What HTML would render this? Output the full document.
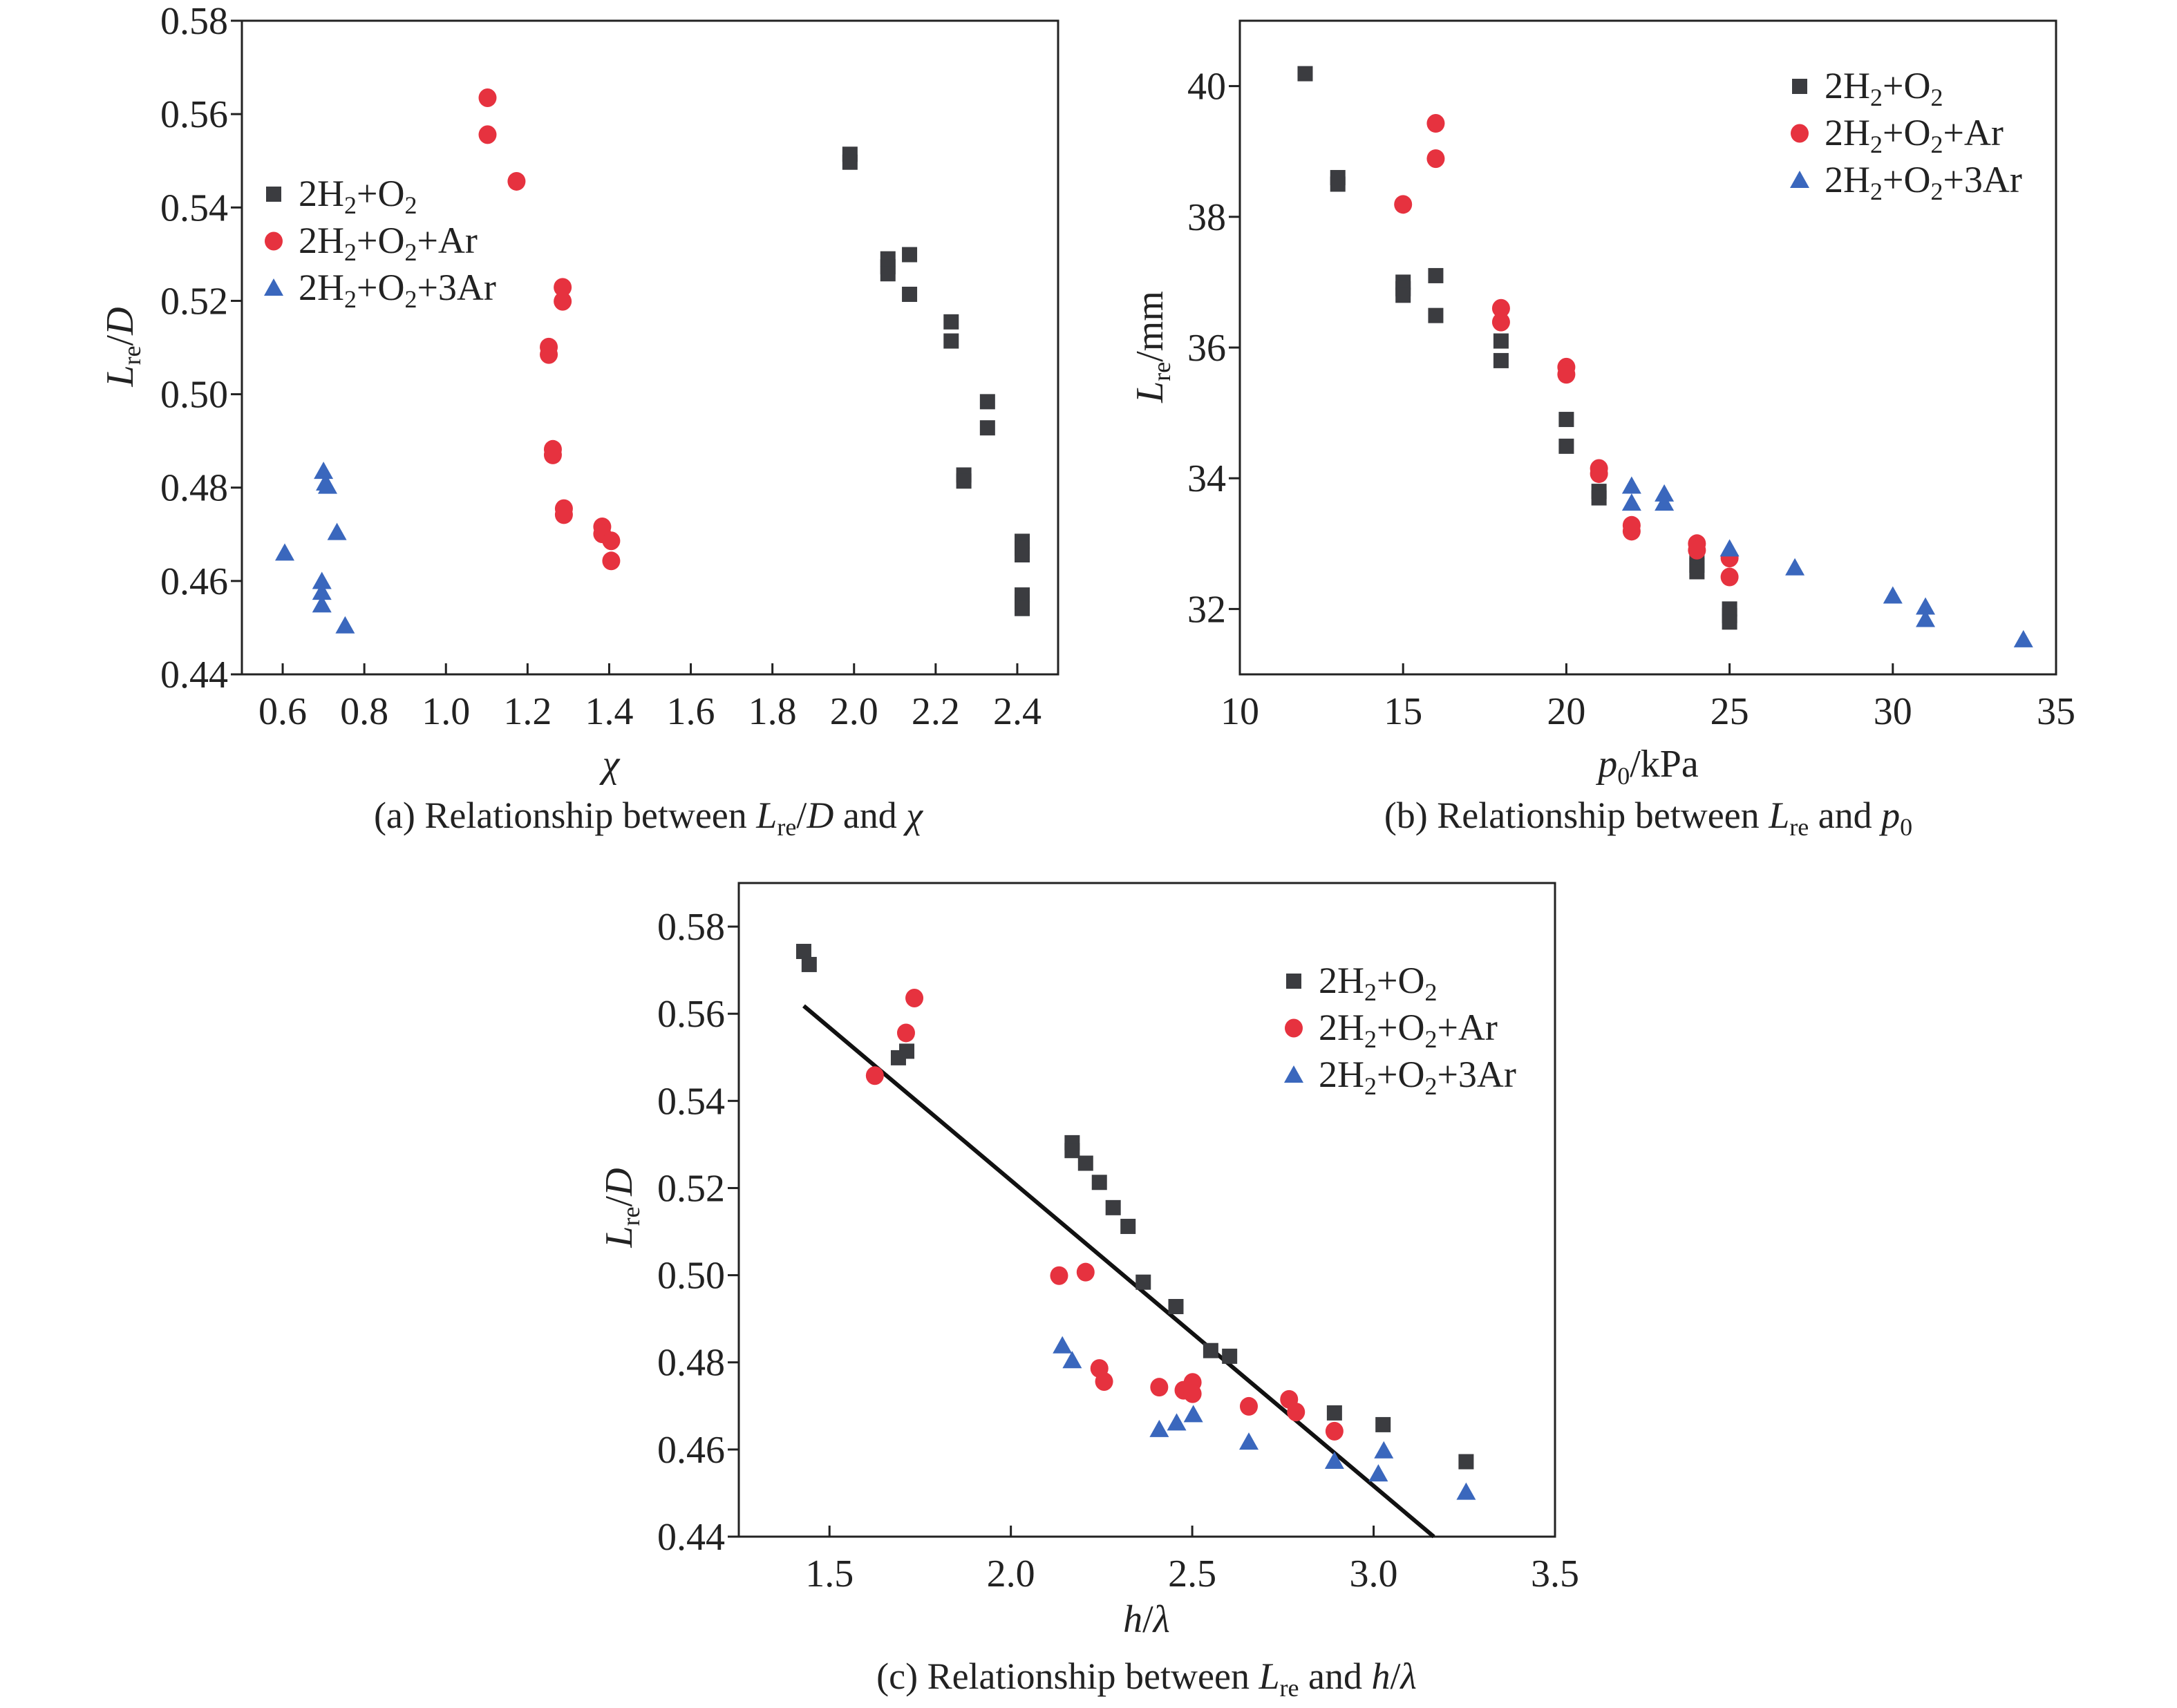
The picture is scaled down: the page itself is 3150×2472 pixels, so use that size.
<!DOCTYPE html>
<html><head><meta charset="utf-8"><style>
html,body{margin:0;padding:0;background:#fff}
svg{display:block}
text{font-family:"Liberation Serif",serif;fill:#222}
</style></head><body>
<svg id="fig" width="3150" height="2472" viewBox="0 0 3150 2472" xmlns="http://www.w3.org/2000/svg">
<g id="pa"></g>
<g id="pb"></g>
<g id="pc"></g>
<text x="938" y="1198" font-size="54" text-anchor="middle">(a) Relationship between <tspan font-style="italic">L</tspan><tspan font-size="36" dy="11">re</tspan><tspan dy="-11">/</tspan><tspan font-style="italic">D</tspan> and <tspan font-style="italic">χ</tspan></text>
<text x="2385" y="1198" font-size="54" text-anchor="middle">(b) Relationship between <tspan font-style="italic">L</tspan><tspan font-size="36" dy="11">re</tspan><tspan dy="-11"> and </tspan><tspan font-style="italic">p</tspan><tspan font-size="36" dy="11">0</tspan></text>
<text x="1659" y="2444" font-size="54" text-anchor="middle">(c) Relationship between <tspan font-style="italic">L</tspan><tspan font-size="36" dy="11">re</tspan><tspan dy="-11"> and </tspan><tspan font-style="italic">h</tspan>/<tspan font-style="italic">λ</tspan></text>
</svg>
<script>
// Panel a: Lre/D vs chi
const aXTicks=[0.6,0.8,1.0,1.2,1.4,1.6,1.8,2.0,2.2,2.4];
const aYTicks=[0.44,0.46,0.48,0.50,0.52,0.54,0.56,0.58];
const aBlackX=[1.99,1.99,2.083,2.083,2.083,2.136,2.136,2.238,2.238,2.269,2.269,2.327,2.327,2.412,2.412,2.412,2.412,2.412,2.412];
const aBlackY=[0.5514,0.5497,0.529,0.5273,0.5258,0.5299,0.5214,0.5155,0.5114,0.4827,0.4814,0.4984,0.4928,0.4685,0.467,0.4656,0.457,0.4555,0.4541];
const aRedX=[1.102,1.102,1.173,1.286,1.286,1.252,1.252,1.262,1.262,1.289,1.289,1.383,1.383,1.405,1.405];
const aRedY=[0.5635,0.5556,0.5456,0.5229,0.5199,0.5101,0.5085,0.4882,0.487,0.4755,0.4742,0.4716,0.4701,0.4686,0.4643];
const aBlueX=[0.700,0.705,0.710,0.733,0.605,0.696,0.696,0.696,0.753];
const aBlueY=[0.4835,0.481,0.4803,0.4704,0.466,0.4599,0.4576,0.4549,0.4504];
// Panel b: Lre vs p0
const bXTicks=[10,15,20,25,30,35];
const bYTicks=[32,34,36,38,40];
const bBlackX=[12,13,13,15,15,15,16,16,18,18,20,20,21,21,24,24,24,25,25,25];
const bBlackY=[40.19,38.6,38.5,37.0,36.9,36.8,37.1,36.49,36.1,35.8,34.9,34.49,33.8,33.7,32.8,32.67,32.57,32.0,31.9,31.8];
const bRedX=[16,16,15,18,18,20,20,21,21,22,22,24,24,25,25];
const bRedY=[39.43,38.89,38.19,36.6,36.39,35.7,35.59,34.15,34.07,33.28,33.19,33.0,32.9,32.78,32.49];
const bBlueX=[22,22,23,23,25,27,30,31,31,34];
const bBlueY=[33.88,33.62,33.76,33.62,32.92,32.63,32.2,32.03,31.84,31.53];
// Panel c: Lre/D vs h/lambda
const cXTicks=[1.5,2.0,2.5,3.0,3.5];
const cYTicks=[0.44,0.46,0.48,0.50,0.52,0.54,0.56,0.58];
const cBlackX=[1.429,1.444,1.690,1.713,2.169,2.169,2.206,2.244,2.282,2.323,2.365,2.455,2.551,2.603,2.892,3.026,3.255];
const cBlackY=[0.5743,0.5713,0.5499,0.5514,0.5304,0.5286,0.5257,0.5213,0.5155,0.5112,0.4984,0.4928,0.4827,0.4814,0.4684,0.4657,0.4572];
const cRedX=[1.734,1.711,1.625,2.133,2.206,2.244,2.257,2.409,2.476,2.501,2.501,2.656,2.767,2.786,2.892];
const cRedY=[0.5636,0.5556,0.5458,0.4999,0.5007,0.4786,0.4756,0.4743,0.4736,0.4754,0.4728,0.4699,0.4715,0.4686,0.4642];
const cBlueX=[2.142,2.169,2.409,2.457,2.503,2.656,2.892,3.013,3.028,3.255];
const cBlueY=[0.4838,0.4804,0.4646,0.4661,0.468,0.4617,0.4573,0.4544,0.4597,0.4502];
const cFitX=[1.429,3.166];
const cFitY=[0.5618,0.44];

const NS="http://www.w3.org/2000/svg";
const BLK="#3b3c40",RED="#e6323f",BLU="#3a67bd";
function mk(p,tag,at){const e=document.createElementNS(NS,tag);for(const k in at)e.setAttribute(k,at[k]);p.appendChild(e);return e;}
function fmt(v,d){return v.toFixed(d);}
function marker(g,type,cx,cy){
  let e;
  if(type==='sq'){e=mk(g,'rect',{x:cx-11,y:cy-11,width:22,height:22,fill:BLK});}
  else if(type==='ci'){e=mk(g,'ellipse',{cx:cx,cy:cy,rx:13,ry:13.5,fill:RED});}
  else {e=mk(g,'polygon',{points:`${cx},${cy-14} ${cx+14},${cy+11} ${cx-14},${cy+11}`,fill:BLU});}
  return e;
}
const SUB=s=>`<tspan font-size="36" dy="11">${s}</tspan>`;
const UP=s=>`<tspan dy="-11">${s}</tspan>`;
function panel(cfg){
  const g=document.getElementById(cfg.id);
  const X=v=>cfg.L+(v-cfg.x0)/(cfg.x1-cfg.x0)*(cfg.R-cfg.L);
  const Y=v=>cfg.B-(v-cfg.y0)/(cfg.y1-cfg.y0)*(cfg.B-cfg.T);
  const frame=mk(g,'rect',{x:cfg.L,y:cfg.T,width:cfg.R-cfg.L,height:cfg.B-cfg.T,fill:'none',stroke:'#222','stroke-width':3});
  
  
  cfg.xt.forEach(v=>{
    const t=mk(g,'line',{x1:X(v),x2:X(v),y1:cfg.B,y2:cfg.B-16,stroke:'#222','stroke-width':3});
    
    
    const l=mk(g,'text',{x:X(v),y:cfg.B+72,'font-size':56,'text-anchor':'middle'});
    l.textContent=fmt(v,cfg.xd);
    
    
  });
  cfg.yt.forEach(v=>{
    const t=mk(g,'line',{x1:cfg.L-16,x2:cfg.L,y1:Y(v),y2:Y(v),stroke:'#222','stroke-width':3});
    
    
    const l=mk(g,'text',{x:cfg.L-20,y:Y(v)+19,'font-size':56,'text-anchor':'end'});
    l.textContent=fmt(v,cfg.yd);
    
    
  });
  if(cfg.fitX){
    const fl=mk(g,'line',{x1:X(cfg.fitX[0]),y1:Y(cfg.fitY[0]),x2:X(cfg.fitX[1]),y2:Y(cfg.fitY[1]),stroke:'#111','stroke-width':6});
    
    
  }
  const series=[['sq',cfg.bx,cfg.by,'black-square'],['ci',cfg.rx,cfg.ry,'red-circle'],['tr',cfg.ux,cfg.uy,'blue-triangle']];
  series.forEach(s=>{
    s[1].forEach((xv,i)=>{
      const m=marker(g,s[0],X(xv),Y(s[2][i]));
      
      
    });
  });
  const labs=[['sq','2H'+SUB('2')+UP('+O')+SUB('2')],['ci','2H'+SUB('2')+UP('+O')+SUB('2')+UP('+Ar')],['tr','2H'+SUB('2')+UP('+O')+SUB('2')+UP('+3Ar')]];
  labs.forEach((lb,i)=>{
    const y=cfg.legY+i*cfg.legDY;
    const m=marker(g,lb[0],cfg.legX,y);
    
    
    const t=mk(g,'text',{x:cfg.legX+36,y:y+17,'font-size':54});
    t.innerHTML=lb[1];
    
    
  });
  const yt=mk(g,'text',{x:0,y:0,'font-size':56,'text-anchor':'middle',transform:`translate(${cfg.ytx},${cfg.yty}) rotate(-90)`});
  yt.innerHTML=cfg.ytitle;
  
  
  const xt=mk(g,'text',{x:cfg.xtx,y:cfg.xty,'font-size':56,'text-anchor':'middle'});
  xt.innerHTML=cfg.xtitle;
  
  
}
const LD='<tspan font-style="italic">L</tspan>'+SUB('re')+UP('/')+'<tspan font-style="italic">D</tspan>';
panel({id:'pa',L:350,R:1531,T:30,B:976,x0:0.5,x1:2.5,y0:0.44,y1:0.58,xt:aXTicks,yt:aYTicks,xd:1,yd:2,
  bx:aBlackX,by:aBlackY,rx:aRedX,ry:aRedY,ux:aBlueX,uy:aBlueY,legX:396,legY:281,legDY:68,
  ytx:192,yty:502,ytitle:LD,xtx:884,xty:1124,xtitle:'<tspan font-style="italic">χ</tspan>'});
panel({id:'pb',L:1794,R:2975,T:30,B:976,x0:10,x1:35,y0:31,y1:41,xt:bXTicks,yt:bYTicks,xd:0,yd:0,
  bx:bBlackX,by:bBlackY,rx:bRedX,ry:bRedY,ux:bBlueX,uy:bBlueY,legX:2604,legY:125,legDY:68,
  ytx:1682,yty:502,ytitle:'<tspan font-style="italic">L</tspan>'+SUB('re')+UP('/mm'),
  xtx:2385,xty:1124,xtitle:'<tspan font-style="italic">p</tspan>'+SUB('0')+UP('/kPa')});
panel({id:'pc',L:1069,R:2250,T:1278,B:2224,x0:1.25,x1:3.5,y0:0.44,y1:0.59,xt:cXTicks,yt:cYTicks,xd:1,yd:2,
  bx:cBlackX,by:cBlackY,rx:cRedX,ry:cRedY,ux:cBlueX,uy:cBlueY,legX:1872,legY:1420,legDY:68,fitX:cFitX,fitY:cFitY,
  ytx:914,yty:1748,ytitle:LD,xtx:1659,xty:2362,xtitle:'<tspan font-style="italic">h</tspan>/<tspan font-style="italic">λ</tspan>'});
</script>
</body></html>
